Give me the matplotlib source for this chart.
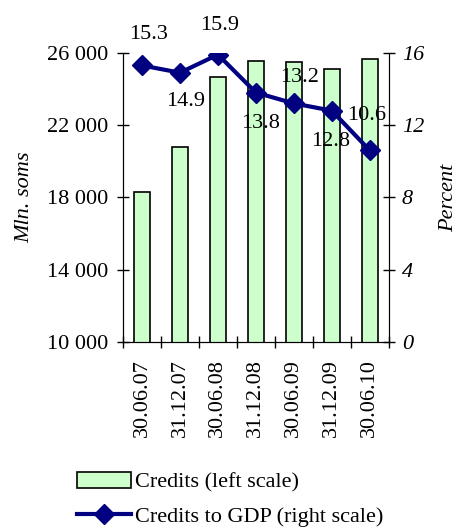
import numpy as np
import matplotlib.pyplot as plt

plt.rcParams['font.family'] = ['Liberation Serif', 'DejaVu Serif']

# Data
dates = ['30.06.07', '31.12.07', '30.06.08', '31.12.08', '30.06.09', '31.12.09', '30.06.10']
credits = [18300, 20800, 24670, 25560, 25500, 25110, 25670]
credits_to_gdp = [15.3, 14.9, 15.9, 13.8, 13.2, 12.8, 10.6]

x = np.arange(len(dates))
fs = 16

fig = plt.figure(figsize=(4.59, 5.28), dpi=100)
ax = fig.add_axes([0.268, 0.352, 0.579, 0.548])
ax2 = ax.twinx()

# Bars on the left scale
bars = ax.bar(x, credits, width=0.42, color='#ccffcc', edgecolor='black',
              linewidth=1.2, label='Credits (left scale)', zorder=2)
ax.set_ylim(10000, 26000)
ax.set_xlim(-0.5, len(dates) - 0.5)
ax.set_yticks(np.arange(10000, 26001, 4000))
ax.set_yticklabels([f'{v:,}'.replace(',', ' ') for v in range(10000, 26001, 4000)])
ax.set_xticks(x)
ax.set_xticklabels(dates, rotation=90)
ax.set_xticks(np.arange(-0.5, len(dates)), minor=True)
ax.tick_params(axis='x', which='major', length=0, labelsize=fs, pad=12)
ax.tick_params(axis='x', which='minor', length=8, direction='inout', width=1)
ax.tick_params(axis='y', labelsize=fs, length=9, direction='inout', width=1, pad=6)
ax.set_ylabel('Mln. soms', fontsize=fs, style='italic', labelpad=9)
ax.spines['top'].set_visible(False)

# Line on the right scale
line, = ax2.plot(x, credits_to_gdp, color='#000080', linewidth=3, marker='D',
                 markersize=10, label='Credits to GDP (right scale)', zorder=3)
ax2.set_ylim(0, 16)
ax2.set_yticks(np.arange(0, 17, 4))
ax2.tick_params(axis='y', labelsize=fs, length=9, direction='inout', width=1, pad=5)
for t in ax2.get_yticklabels():
    t.set_style('italic')
ax2.set_ylabel('Percent', fontsize=fs, style='italic', labelpad=11)
ax2.spines['top'].set_visible(False)

# Value labels
offsets = [(5, 22), (4, -21), (1, 21), (3, -22), (4, 19), (-1, -22), (-2, 25)]
for xi, v, off in zip(x, credits_to_gdp, offsets):
    ax2.annotate(f'{v}', (xi, v), xytext=off, textcoords='offset points',
                 ha='center', va='center', fontsize=fs, annotation_clip=False)

fig.legend([bars, line], ['Credits (left scale)', 'Credits to GDP (right scale)'],
           loc='lower left', bbox_to_anchor=(0.125, -0.036), frameon=False,
           fontsize=fs, handlelength=2.4, handletextpad=0.2, labelspacing=0.62)

fig.savefig('out.png', dpi=100)
